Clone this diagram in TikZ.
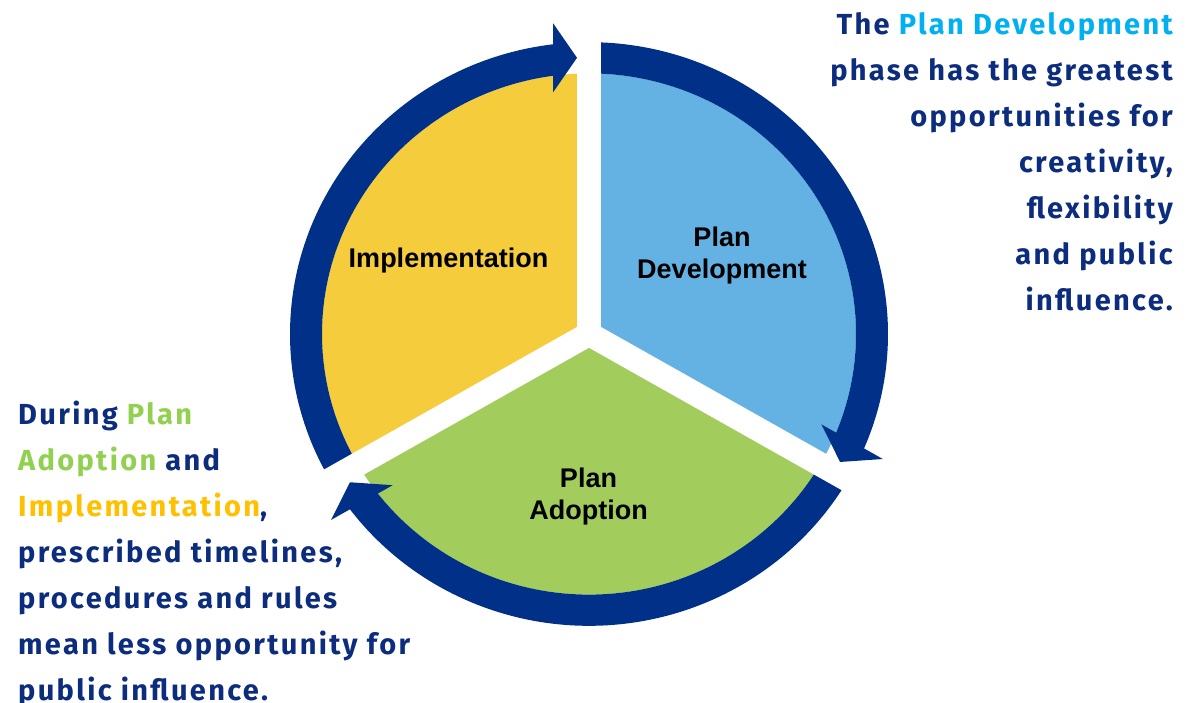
\documentclass[tikz,border=0pt]{standalone}
\usepackage{fontspec}
\setmainfont{Liberation Sans}
\newfontfamily\sidefont[LetterSpace=8]{Fira Sans}
\definecolor{ringblue}{RGB}{0,48,136}
\definecolor{navytext}{RGB}{12,44,125}
\definecolor{secY}{RGB}{245,205,60}
\definecolor{secB}{RGB}{99,178,227}
\definecolor{secG}{RGB}{162,205,93}
\definecolor{hlBlue}{RGB}{0,176,240}
\definecolor{hlGreen}{RGB}{146,208,80}
\definecolor{hlGold}{RGB}{255,192,0}
\tikzset{
  seclabel/.style={font=\bfseries\fontsize{27}{32}\selectfont, text=black, align=center, inner sep=0pt},
  sidetext/.style={font=\sidefont\bfseries\fontsize{29}{46}\selectfont, text=navytext, inner sep=0pt},
  ringband/.style={fill=ringblue},
  gapline/.style={draw=white, line width=24pt}
}
\begin{document}
\begin{tikzpicture}[x=1pt,y=-1pt]
\useasboundingbox (0,0) rectangle (1192,702);
\fill[white] (0,0) rectangle (1192,702);
\begin{scope}[shift={(589,334)}, yscale=0.976]
  % sectors
  \fill[secY] (0,0) -- (150:267) arc[start angle=150, end angle=270, radius=267] -- cycle;
  \fill[secB] (0,0) -- (270:267) arc[start angle=270, end angle=390, radius=267] -- cycle;
  \fill[secG] (0,0) -- (30:267) arc[start angle=30, end angle=150, radius=267] -- cycle;
  % ring bands
  \foreach \r in {0,120,240} {
    \begin{scope}[rotate=\r]
      \fill[ringband] (150:299) arc[start angle=150, end angle=264, radius=299]
        -- (264:267) arc[start angle=264, end angle=150, radius=267] -- cycle;
    \end{scope}
  }
  % white gaps
  \coordinate (c) at (0,0);
  \coordinate (g1) at (270:335);
  \coordinate (g2) at (30:335);
  \coordinate (g3) at (150:335);
  \draw[gapline] (c) -- (g1);
  \draw[gapline] (c) -- (g2);
  \draw[gapline] (c) -- (g3);
  % arrowheads
  \foreach \r in {0,120,240} {
    \begin{scope}[rotate=\r]
      \fill[ringband] (-12,-283) -- (-36,-318.5) -- (-36,-247.5) -- cycle;
    \end{scope}
  }
\end{scope}
% sector labels
\node[seclabel, anchor=base] (impl) at (448.5,267) {Implementation};
\node[seclabel, anchor=north] (dev) at (722,226.7) {Plan\\Development};
\node[seclabel, anchor=north] (adopt) at (588.5,468) {Plan\\Adoption};
% side texts
\node[sidetext, anchor=north east, align=right] (rtext) at (1173,12)
  {The \textcolor{hlBlue}{Plan Development}\\phase has the greatest\\opportunities for\\creativity,\\flexibility\\and public\\influence.};
\node[sidetext, anchor=north west, align=left] (ltext) at (18,400.5)
  {During \textcolor{hlGreen}{Plan}\\\textcolor{hlGreen}{Adoption} and\\\textcolor{hlGold}{Implementation},\\prescribed timelines,\\procedures and rules\\mean less opportunity for\\public influence.};
\end{tikzpicture}
\end{document}
